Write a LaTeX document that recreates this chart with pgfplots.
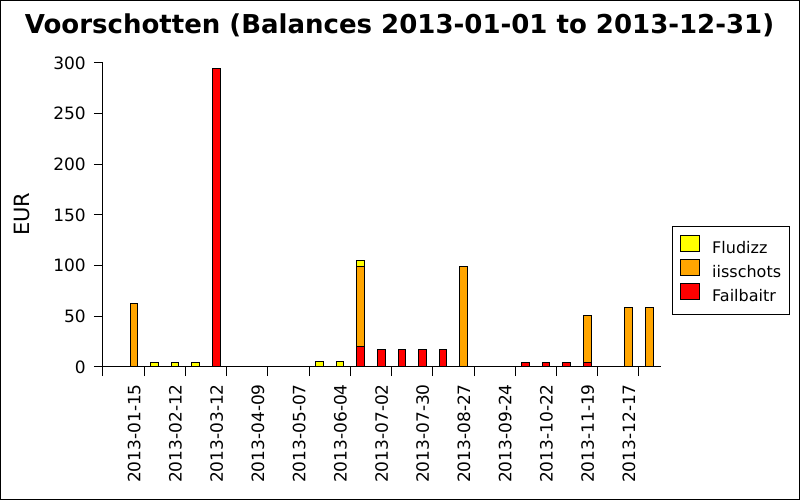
\documentclass[border=0pt]{standalone}
\usepackage{pgfplots}
\pgfplotsset{compat=1.18}
\usepackage{fontspec}
\setmainfont{DejaVu Sans}
\definecolor{cyel}{RGB}{255,255,0}
\definecolor{corg}{RGB}{255,165,0}
\definecolor{cred}{RGB}{255,0,0}
\begin{document}
\begin{tikzpicture}
\useasboundingbox (0,0) rectangle (800pt,500pt);
\draw[line width=1pt] (0.5pt,0.5pt) rectangle (799.5pt,499.5pt);
\begin{axis}[
  at={(103pt,133pt)}, anchor=south west,
  scale only axis, width=558pt, height=304pt,
  xmin=-14, xmax=365, ymin=0, ymax=300,
  ybar stacked, bar width=5.2,
  axis lines=left, axis line style={-, line width=1pt},
  tick align=outside, major tick length=9pt,
  every tick/.style={black, line width=1pt},
  xtick={-14,14,...,350},
  xticklabels={,2013-01-15,2013-02-12,2013-03-12,2013-04-09,2013-05-07,2013-06-04,2013-07-02,2013-07-30,2013-08-27,2013-09-24,2013-10-22,2013-11-19,2013-12-17},
  ytick={0,50,...,300},
  /pgf/number format/assume math mode=true,
  tick label style={font=\fontsize{17}{20}\selectfont},
  yticklabel style={anchor=east, inner sep=0pt, xshift=-8pt},
  xticklabel style={xshift=-10pt, yshift=-8pt, rotate=90, anchor=east, inner sep=0pt},
  title={Voorschotten (Balances 2013-01-01 to 2013-12-31)},
  title style={at={(axis description cs:0.5314,1.0757)}, anchor=base, inner sep=0pt, font=\fontsize{26}{31}\selectfont\bfseries},
  ylabel={EUR},
  ylabel style={at={(axis description cs:-0.1457,0.503)}, anchor=center, inner sep=0pt, font=\fontsize{21}{25}\selectfont},
  reverse legend,
  legend image code/.code={\draw[#1, line width=1pt] (0pt,-2pt) rectangle (19pt,14pt);},
  legend style={at={(axis description cs:1.0192,0.4628)}, anchor=north west, draw=black, line width=1pt,
    font=\fontsize{16}{19}\selectfont, inner xsep=8pt, inner ysep=8pt, row sep=0pt, column sep=12pt,
    nodes={inner sep=0pt, text height=14pt, text depth=5pt}},
  legend cell align=left,
]
\addplot[fill=cred, draw=black, line width=1pt] coordinates {
(7,0) (21,0) (35,0) (49,0) (63,295) (133,0) (147,0) (161,20) (175,17.5) (189,17.5) (203,17.5) (217,17.5) (231,0) (273,4.5) (287,4.5) (301,4.5) (315,4.5) (343,0) (357,0)};
\addlegendentry{Failbaitr}
\addplot[fill=corg, draw=black, line width=1pt] coordinates {
(7,63) (21,0) (35,0) (49,0) (63,0) (133,0) (147,0) (161,79) (175,0) (189,0) (203,0) (217,0) (231,99.5) (273,0) (287,0) (301,0) (315,46.5) (343,59) (357,59)};
\addlegendentry{iisschots}
\addplot[fill=cyel, draw=black, line width=1pt] coordinates {
(7,0) (21,4.5) (35,4.5) (49,4.5) (63,0) (133,5.5) (147,5.5) (161,6) (175,0) (189,0) (203,0) (217,0) (231,0) (273,0) (287,0) (301,0) (315,0) (343,0) (357,0)};
\addlegendentry{Fludizz}
\end{axis}
\end{tikzpicture}
\end{document}
